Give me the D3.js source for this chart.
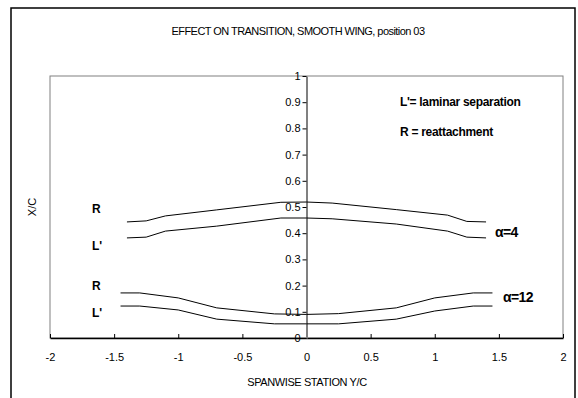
<!DOCTYPE html>
<html>
<head>
<meta charset="utf-8">
<script src="https://cdn.jsdelivr.net/npm/d3@7"></script>
<style>
  html, body { margin: 0; padding: 0; background: #fff; }
  svg { display: block; font-family: "Liberation Sans", Arial, sans-serif; }
</style>
</head>
<body>
<svg id="chart" width="578" height="398"></svg>
<script>
// ---- data ----
const stations4 = [-1.4, -1.25, -1.1, -0.7, -0.2, 0, 0.2, 0.7, 1.1, 1.25, 1.4];
const reattach4 = [0.443, 0.447, 0.466, 0.489, 0.518, 0.519, 0.515, 0.490, 0.469, 0.445, 0.443];
const laminar4  = [0.382, 0.385, 0.408, 0.427, 0.458, 0.458, 0.455, 0.435, 0.408, 0.385, 0.382];

const stations12 = [-1.45, -1.3, -1.0, -0.7, -0.25, 0, 0.25, 0.7, 1.0, 1.3, 1.45];
const reattach12 = [0.172, 0.172, 0.153, 0.115, 0.092, 0.090, 0.093, 0.115, 0.153, 0.172, 0.172];
const laminar12  = [0.122, 0.122, 0.107, 0.072, 0.054, 0.054, 0.054, 0.072, 0.103, 0.122, 0.122];

const xTicks = [-2, -1.5, -1, -0.5, 0, 0.5, 1, 1.5, 2];
const yTicks = [0, 0.1, 0.2, 0.3, 0.4, 0.5, 0.6, 0.7, 0.8, 0.9, 1];

const titleText = "EFFECT ON TRANSITION, SMOOTH WING, position 03";
const xTitle = "SPANWISE STATION Y/C";
const yTitle = "X/C";

// ---- layout ----
const svg = d3.select("#chart");
const pL = 50, pR = 563, pT = 76, pB = 338;
const x = d3.scaleLinear().domain([-2, 2]).range([pL, pR]);
const y = d3.scaleLinear().domain([0, 1]).range([pB, pT]);

// outer border
svg.append("rect").attr("x", 11).attr("y", 8).attr("width", 564).attr("height", 410)
  .attr("fill", "none").attr("stroke", "#000").attr("stroke-width", 1.5);

// plot box
svg.append("rect").attr("x", pL).attr("y", pT).attr("width", pR - pL).attr("height", pB - pT)
  .attr("fill", "none").attr("stroke", "#808080").attr("stroke-width", 1);

// title
svg.append("text").attr("x", 298).attr("y", 35).attr("text-anchor", "middle")
  .attr("font-size", 11).attr("letter-spacing", "-0.55px").text(titleText);

// x axis
const xAxis = svg.append("g").attr("transform", `translate(0,${y(0)})`)
  .call(d3.axisBottom(x).tickValues(xTicks).tickSizeInner(-4).tickSizeOuter(0).tickPadding(15)
    .tickFormat(d => String(d)));
xAxis.select(".domain").attr("stroke", "#000").attr("stroke-width", 1.5);
xAxis.selectAll(".tick line").attr("stroke", "#000");
xAxis.selectAll("text").attr("font-size", 11)
  .attr("font-family", "Liberation Sans, Arial, sans-serif").attr("fill", "#000");

// y axis
const yAxis = svg.append("g").attr("transform", `translate(${x(0)},0)`)
  .call(d3.axisLeft(y).tickValues(yTicks).tickSizeInner(4).tickSizeOuter(0).tickPadding(2)
    .tickFormat(d => String(d)));
yAxis.select(".domain").attr("stroke", "#808080").attr("stroke-width", 2);
yAxis.selectAll(".tick line").attr("stroke", "#000");
yAxis.selectAll("text").attr("font-size", 11)
  .attr("font-family", "Liberation Sans, Arial, sans-serif").attr("fill", "#000");

// axis titles
svg.append("text").attr("x", 307).attr("y", 386).attr("text-anchor", "middle")
  .attr("font-size", 11).attr("letter-spacing", "-0.4px").text(xTitle);
svg.append("text").attr("transform", `translate(36,${(pT + pB) / 2}) rotate(-90)`)
  .attr("text-anchor", "middle").attr("font-size", 11).text(yTitle);

// lines
const line = d3.line().x(d => x(d[0])).y(d => y(d[1]));
const series = [
  [stations4, reattach4], [stations4, laminar4],
  [stations12, reattach12], [stations12, laminar12]
];
series.forEach(([xs, ys]) => {
  svg.append("path").datum(xs.map((v, i) => [v, ys[i]]))
    .attr("d", line).attr("fill", "none").attr("stroke", "#000").attr("stroke-width", 1);
});

// annotations
const bold = (tx, ty, txt, size, ls) => svg.append("text").attr("x", tx).attr("y", ty)
  .attr("font-size", size).attr("font-weight", "bold").attr("letter-spacing", ls)
  .attr("dominant-baseline", "central").text(txt);
bold(400, 102, "L'= laminar separation", 12, "-0.3px");
bold(400, 132, "R = reattachment", 12, "-0.3px");
bold(92, 209, "R", 12, "0px");
bold(92, 246, "L'", 12, "0px");
bold(92, 286, "R", 12, "0px");
bold(92, 313, "L'", 12, "0px");
bold(495, 232, "\u03b1=4", 14, "-0.6px");
bold(503, 297, "\u03b1=12", 14, "-0.6px");
</script>
</body>
</html>
